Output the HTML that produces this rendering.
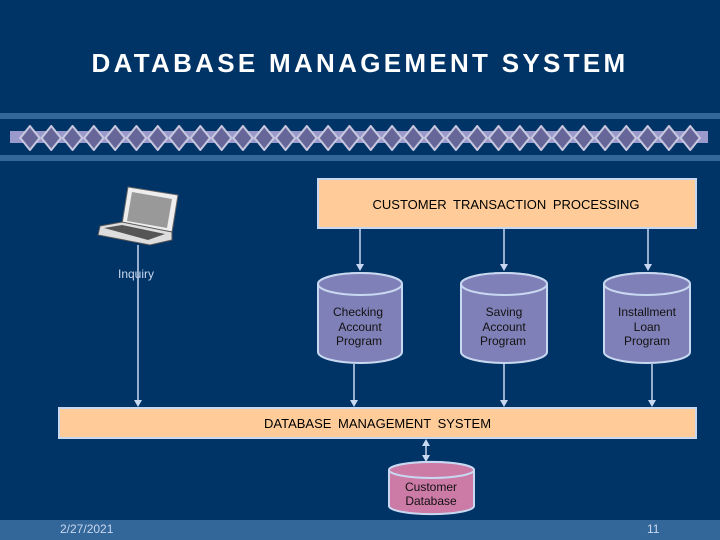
<!DOCTYPE html>
<html><head><meta charset="utf-8"><style>
html,body{margin:0;padding:0;background:#003366;}
svg{display:block;}
text{font-family:"Liberation Sans",sans-serif;}
</style></head><body>
<svg width="720" height="540" viewBox="0 0 720 540" xmlns="http://www.w3.org/2000/svg">
<defs>
<pattern id="dia" x="19.3" y="125" width="21.3" height="26" patternUnits="userSpaceOnUse">
<path d="M10.65,1 L20.3,13 L10.65,25 L1,13 Z" fill="#666699" stroke="#c8c8e0" stroke-width="2"/>
</pattern>
</defs>
<rect width="720" height="540" fill="#003366"/>
<text x="360" y="72" text-anchor="middle" font-size="26" font-weight="bold" fill="#ffffff" letter-spacing="3.3">DATABASE MANAGEMENT SYSTEM</text>
<rect x="0" y="113" width="720" height="6" fill="#336699"/>
<rect x="0" y="155" width="720" height="6" fill="#336699"/>
<rect x="10" y="131" width="698" height="12" fill="#9999cc"/>
<rect x="19" y="125" width="682" height="26" fill="url(#dia)"/>
<rect x="0" y="520" width="720" height="20" fill="#336699"/>
<text x="60" y="533" font-size="12" fill="#c8d8f0" font-family="Liberation Serif">2/27/2021</text>
<text x="647" y="533" font-size="12" fill="#c8d8f0">11</text>

<g>
<polygon points="128,187 178,195 172,232 122,224" fill="#eeeeee" stroke="#666" stroke-width="1"/>
<polygon points="132,192 172,199 167,228 127,221" fill="#999999"/>
<polygon points="100,226 122,222 172,232 172,240 150,245 98,235" fill="#dddddd" stroke="#555" stroke-width="1"/>
<polygon points="104,228 122,225 165,234 148,240" fill="#555555"/>
</g>
<text x="118" y="278" font-size="12" fill="#c8d8f0">Inquiry</text>

<g stroke="#c8d8f0" stroke-width="1.5" fill="none">
<line x1="138" y1="245" x2="138" y2="402"/>
<line x1="360" y1="229" x2="360" y2="266"/>
<line x1="504" y1="229" x2="504" y2="266"/>
<line x1="648" y1="229" x2="648" y2="266"/>
<line x1="354" y1="364" x2="354" y2="401"/>
<line x1="504" y1="364" x2="504" y2="401"/>
<line x1="652" y1="364" x2="652" y2="401"/>
<line x1="426" y1="444" x2="426" y2="456"/>
</g>
<g fill="#c8d8f0">
<polygon points="134,400 142,400 138,407"/>
<polygon points="356,264 364,264 360,271"/>
<polygon points="500,264 508,264 504,271"/>
<polygon points="644,264 652,264 648,271"/>
<polygon points="350,400 358,400 354,407"/>
<polygon points="500,400 508,400 504,407"/>
<polygon points="648,400 656,400 652,407"/>
<polygon points="422,446 430,446 426,439"/>
<polygon points="422,455 430,455 426,462"/>
</g>

<rect x="318" y="179" width="378" height="49" fill="#ffcc99" stroke="#c8d8f0" stroke-width="2"/>
<text x="506" y="209" text-anchor="middle" font-size="13" fill="#000" word-spacing="3">CUSTOMER TRANSACTION PROCESSING</text>

<g stroke="#c8d8f0" stroke-width="2" fill="#8080b8">
<path d="M318,284 V352 A42,11 0 0 0 402,352 V284 A42,11 0 0 0 318,284 Z"/>
<ellipse cx="360" cy="284" rx="42" ry="11"/>
<path d="M461,284 V352 A43,11 0 0 0 547,352 V284 A43,11 0 0 0 461,284 Z"/>
<ellipse cx="504" cy="284" rx="43" ry="11"/>
<path d="M604,284 V352 A43,11 0 0 0 690,352 V284 A43,11 0 0 0 604,284 Z"/>
<ellipse cx="647" cy="284" rx="43" ry="11"/>
</g>
<g font-size="12" fill="#111" text-anchor="middle">
<text x="358" y="316">Checking</text><text x="360" y="331">Account</text><text x="359" y="345">Program</text>
<text x="504" y="316">Saving</text><text x="504" y="331">Account</text><text x="503" y="345">Program</text>
<text x="647" y="316">Installment</text><text x="647" y="331">Loan</text><text x="647" y="345">Program</text>
</g>

<rect x="59" y="408" width="637" height="30" fill="#ffcc99" stroke="#c8d8f0" stroke-width="2"/>
<text x="264" y="428" font-size="13" fill="#000" word-spacing="3">DATABASE MANAGEMENT SYSTEM</text>

<g stroke="#c8d8f0" stroke-width="2" fill="#cc7aa6">
<path d="M389,470 V506 A42,8 0 0 0 474,506 V470 A42,8 0 0 0 389,470 Z"/>
<ellipse cx="431.5" cy="470" rx="42.5" ry="8"/>
</g>
<text x="431" y="491" font-size="12" fill="#111" text-anchor="middle">Customer</text>
<text x="431" y="505" font-size="12" fill="#111" text-anchor="middle">Database</text>
</svg>
</body></html>
